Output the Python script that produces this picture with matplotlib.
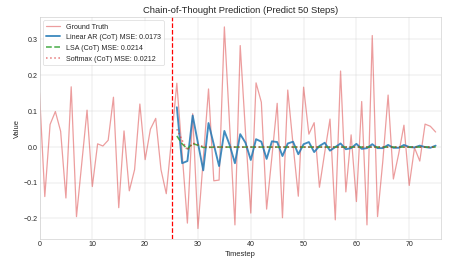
import matplotlib
matplotlib.use("Agg")
import matplotlib.pyplot as plt
import numpy as np

""" Values read off the reference """
context_len = 25
ground_truth = [0.15, -0.139, 0.062, 0.098, 0.043, -0.143, 0.167, -0.195, -0.046, 0.102,
                -0.111, 0.008, 0.002, 0.018, 0.138, -0.17, 0.044, -0.123, -0.064, 0.119,
                -0.036, 0.049, 0.079, -0.064, -0.131, 0.022, 0.177, -0.018, -0.213, 0.092,
                -0.228, -0.035, 0.161, -0.095, -0.093, 0.334, 0.058, -0.218, 0.282, 0.04,
                -0.185, 0.178, 0.124, -0.174, -0.028, 0.121, -0.198, 0.158, 0.006, -0.138,
                0.166, 0.035, 0.067, -0.113, -0.016, 0.077, -0.204, 0.211, -0.126, 0.033,
                -0.153, 0.126, -0.218, 0.31, -0.195, -0.04, 0.144, -0.09, -0.02, 0.06,
                -0.108, -0.003, -0.04, 0.063, 0.057, 0.041]
linear_ar = [0.11, -0.046, -0.04, 0.087, 0.01, -0.066, 0.066, 0.006, -0.054, 0.044,
             0.005, -0.046, 0.035, 0.011, -0.037, 0.021, 0.014, -0.034, 0.015, 0.013,
             -0.026, 0.009, 0.014, -0.021, 0.007, 0.013, -0.015, 0.002, 0.011, -0.011,
             -0.001, 0.009, -0.007, -0.004, 0.008, -0.006, -0.004, 0.007, -0.004, -0.004,
             0.005, -0.003, -0.003, 0.005, -0.001, -0.002, 0.003, -0.001, -0.003, 0.003]
lsa = [0.03, 0.008, -0.006, 0.009, 0.004, -0.002, -0.002, -0.001, -0.001, -0.001,
       -0.001, -0.001, -0.001, -0.001, -0.001, -0.001, -0.001, -0.001, -0.001, -0.001,
       -0.001, -0.001, -0.001, -0.001, -0.001, -0.001, -0.001, -0.001, -0.001, -0.001,
       -0.001, -0.001, -0.001, -0.001, -0.001, -0.001, -0.001, -0.001, -0.001, -0.001,
       -0.001, -0.001, -0.001, -0.001, -0.001, -0.001, -0.001, -0.001, -0.001, -0.001]
softmax = [0.049, 0.018, -0.01, 0.01, 0.006, 0.0, -0.001, -0.001, -0.001, -0.001,
           -0.001, -0.001, -0.001, -0.001, -0.001, -0.001, -0.001, -0.001, -0.001, -0.001,
           -0.001, -0.001, -0.001, -0.001, -0.001, -0.001, -0.001, -0.001, -0.001, -0.001,
           -0.001, -0.001, -0.001, -0.001, -0.001, -0.001, -0.001, -0.001, -0.001, -0.001,
           -0.001, -0.001, -0.001, -0.001, -0.001, -0.001, -0.001, -0.001, -0.001, -0.001]
mse = {"Linear AR": 0.0173, "LSA": 0.0214, "Softmax": 0.0212}

t_all = np.arange(len(ground_truth))
t_pred = np.arange(context_len + 1, context_len + 1 + len(linear_ar))

""" Plot """
plt.style.use("seaborn-v0_8-whitegrid")
plt.rcParams["grid.color"] = "#d8d8d8"
plt.rcParams["axes.edgecolor"] = "#cccccc"
fig = plt.figure(figsize=(10, 6), dpi=44.9)
ax = fig.add_axes([0.088, 0.113, 0.894, 0.823])

ax.plot(t_all, ground_truth, color="tab:red", alpha=0.45, linewidth=2, label="Ground Truth")
ax.plot(t_pred, linear_ar, color="tab:blue", alpha=0.85, linewidth=3,
        label="Linear AR (CoT) MSE: %.4f" % mse["Linear AR"])
ax.plot(t_pred, lsa, color="tab:green", alpha=0.85, linewidth=2.5, linestyle="--",
        label="LSA (CoT) MSE: %.4f" % mse["LSA"])
ax.plot(t_pred, softmax, color="tab:red", alpha=0.6, linewidth=2.5, linestyle=":",
        label="Softmax (CoT) MSE: %.4f" % mse["Softmax"])
ax.axvline(context_len, color="red", linestyle="--", linewidth=2)

ax.set_xlim(0, 76)
ax.set_title("Chain-of-Thought Prediction (Predict 50 Steps)", fontsize=15)
ax.set_xlabel("Timestep", fontsize=12)
ax.set_ylabel("Value", fontsize=12)
ax.tick_params(labelsize=11.5)
ax.legend(loc="upper left", fontsize=11.5, frameon=True)

fig.savefig("out.png", dpi=44.9)
